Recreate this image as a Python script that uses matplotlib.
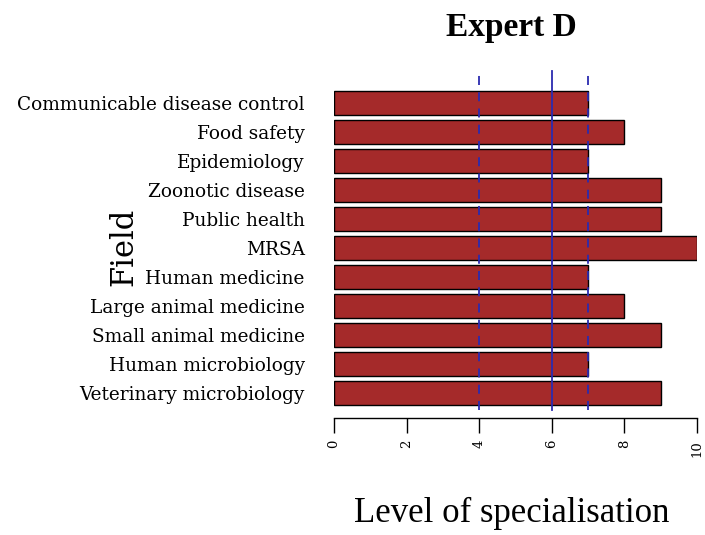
import matplotlib
matplotlib.use("Agg")
import matplotlib.pyplot as plt
import numpy as np

fields = ["Veterinary microbiology", "Human microbiology", "Small animal medicine",
          "Large animal medicine", "Human medicine", "MRSA", "Public health",
          "Zoonotic disease", "Epidemiology", "Food safety", "Communicable disease control"]
levels = [9, 7, 9, 8, 7, 10, 9, 9, 7, 8, 7]
ref_dashed = [4, 7]
ref_solid = [6]
xticks = [0, 2, 4, 6, 8, 10]
title = "Expert D"
xlabel = "Level of specialisation"
ylabel = "Field"

W, H = 705, 535
fig = plt.figure(figsize=(W / 100, H / 100), dpi=100)
x0, x1 = 334, 697
y_top, y_bot = 78, 418
ax = fig.add_axes([x0 / W, 1 - y_bot / H, (x1 - x0) / W, (y_bot - y_top) / H])

pos = 0.7 + 1.2 * np.arange(len(fields))
ax.barh(pos, levels, height=1.0, color="#A52A2A", edgecolor="black", linewidth=1.0, zorder=2)

line_col = "#2b2bb0"
ymin = (y_bot - 410) / (y_bot - y_top)
ymax = (y_bot - 71) / (y_bot - y_top)
for v in ref_solid:
    ax.axvline(v, ymin=ymin, ymax=ymax, color=line_col, lw=1.3, clip_on=False, zorder=3)
for v in ref_dashed:
    ax.axvline(v, ymin=ymin, ymax=ymax, color=line_col, lw=1.3, ls=(0, (5, 4)), clip_on=False, zorder=3)

ax.set_xlim(0, 10)
ax.set_ylim(-0.32, 13.72)
for s in ["top", "right", "left"]:
    ax.spines[s].set_visible(False)
ax.spines["bottom"].set_bounds(0, 10)
ax.spines["bottom"].set_linewidth(1.0)

ax.set_xticks(xticks)
ax.set_xticklabels([str(t) for t in xticks], rotation=90, fontfamily="DejaVu Serif", fontsize=9.5)
ax.tick_params(axis="x", length=10.8, width=1.0, pad=5, direction="out")
ax.set_yticks(pos)
ax.set_yticklabels(fields, fontfamily="DejaVu Serif", fontsize=13.3)
ax.tick_params(axis="y", length=0, pad=21)

fig.text(511 / W, 1 - 36 / H, title, ha="center", va="baseline",
         fontfamily="Liberation Serif", fontweight="bold", fontsize=24)
fig.text(512 / W, 1 - 522 / H, xlabel, ha="center", va="baseline",
         fontfamily="Liberation Serif", fontsize=25)
fig.text(124 / W, 1 - 247 / H, ylabel, ha="center", va="center", rotation=90,
         fontfamily="DejaVu Serif", fontsize=22)

fig.savefig("out.png", dpi=100)
